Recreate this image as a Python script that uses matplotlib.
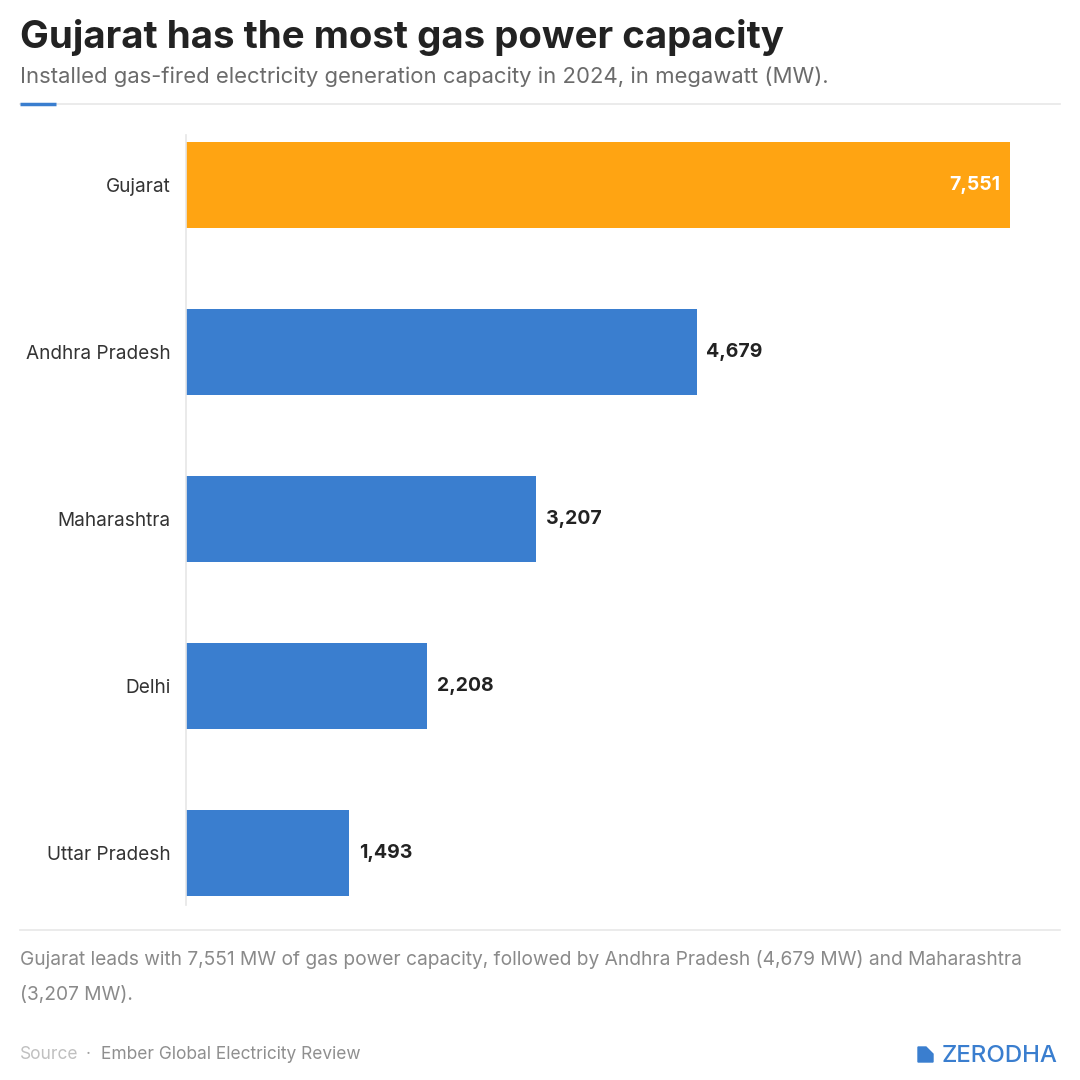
import matplotlib
matplotlib.use("Agg")
import matplotlib.pyplot as plt
from matplotlib.patches import Polygon

plt.rcParams['font.family'] = ['Inter', 'DejaVu Sans']

states = ["Gujarat", "Andhra Pradesh", "Maharashtra", "Delhi", "Uttar Pradesh"]
capacity_mw = [7551, 4679, 3207, 2208, 1493]
bar_colors = ["#FFA412", "#3A7ECF", "#3A7ECF", "#3A7ECF", "#3A7ECF"]

W, H = 1080, 1080
fig = plt.figure(figsize=(10.8, 10.8), dpi=100)
fig.patch.set_facecolor("white")


def fx(px):
    return px / W


def fy(py):
    return 1 - py / H


# header
fig.text(fx(20), fy(48), "Gujarat has the most gas power capacity", fontsize=27.7,
         fontweight="bold", color="#222222", va="baseline")
fig.text(fx(20), fy(83), "Installed gas-fired electricity generation capacity in 2024, in megawatt (MW).",
         fontsize=15.9, color="#6b6b6b", va="baseline")
fig.add_artist(plt.Line2D([fx(20), fx(1060)], [fy(104), fy(104)], color="#e8e8e8", lw=1.2))
fig.add_artist(plt.Line2D([fx(20), fx(56)], [fy(104), fy(104)], color="#3A7ECF", lw=2.5,
                          solid_capstyle="butt"))

# chart
ax = fig.add_axes([fx(186), fy(905), fx(1060) - fx(186), fy(135) - fy(905)])
ypos = list(range(len(states)))
ax.barh(ypos, capacity_mw, height=0.515, color=bar_colors, zorder=2)
ax.set_xlim(0, 8010)
ax.set_ylim(4.31, -0.3)
ax.set_yticks(ypos)
ax.set_yticklabels(states, fontsize=13.7, color="#333333")
ax.tick_params(axis="y", length=0, pad=11)
ax.set_xticks([])
for s in ["top", "right", "bottom"]:
    ax.spines[s].set_visible(False)
ax.spines["left"].set_color("#e6e6e6")
ax.spines["left"].set_linewidth(1.2)

for i, v in enumerate(capacity_mw):
    label = f"{v:,}"
    if i == 0:
        ax.text(v - 90, i, label, ha="right", va="center", fontsize=14,
                fontweight="bold", color="white", zorder=3)
    else:
        ax.text(v + 90, i, label, ha="left", va="center", fontsize=14,
                fontweight="bold", color="#222222", zorder=3)

# footer
fig.add_artist(plt.Line2D([fx(20), fx(1060)], [fy(930), fy(930)], color="#e8e8e8", lw=1.2))
fig.text(fx(20), fy(965), "Gujarat leads with 7,551 MW of gas power capacity, followed by Andhra Pradesh (4,679 MW) and Maharashtra",
         fontsize=13.8, color="#8a8a8a", va="baseline")
fig.text(fx(20), fy(1000), "(3,207 MW).", fontsize=13.8, color="#8a8a8a", va="baseline")
fig.text(fx(20), fy(1059), "Source", fontsize=12.5, color="#c0c0c0", va="baseline")
fig.text(fx(86), fy(1059), "·", fontsize=12.5, color="#a0a0a0", va="baseline")
fig.text(fx(101), fy(1059), "Ember Global Electricity Review", fontsize=12.5, color="#8f8f8f",
         va="baseline")

# logo
logo_blue = "#3A7ECF"
fig.add_artist(Polygon([[fx(918), fy(1047)], [fx(918), fy(1062)], [fx(933), fy(1062)],
                        [fx(933), fy(1054)], [fx(926), fy(1047)]],
                       closed=True, color=logo_blue, transform=fig.transFigure))
fig.text(fx(942), fy(1062), "ZERODHA", fontsize=17.3, color=logo_blue, va="baseline",
         fontweight="medium")

fig.savefig("out.png", dpi=100, facecolor="white")
